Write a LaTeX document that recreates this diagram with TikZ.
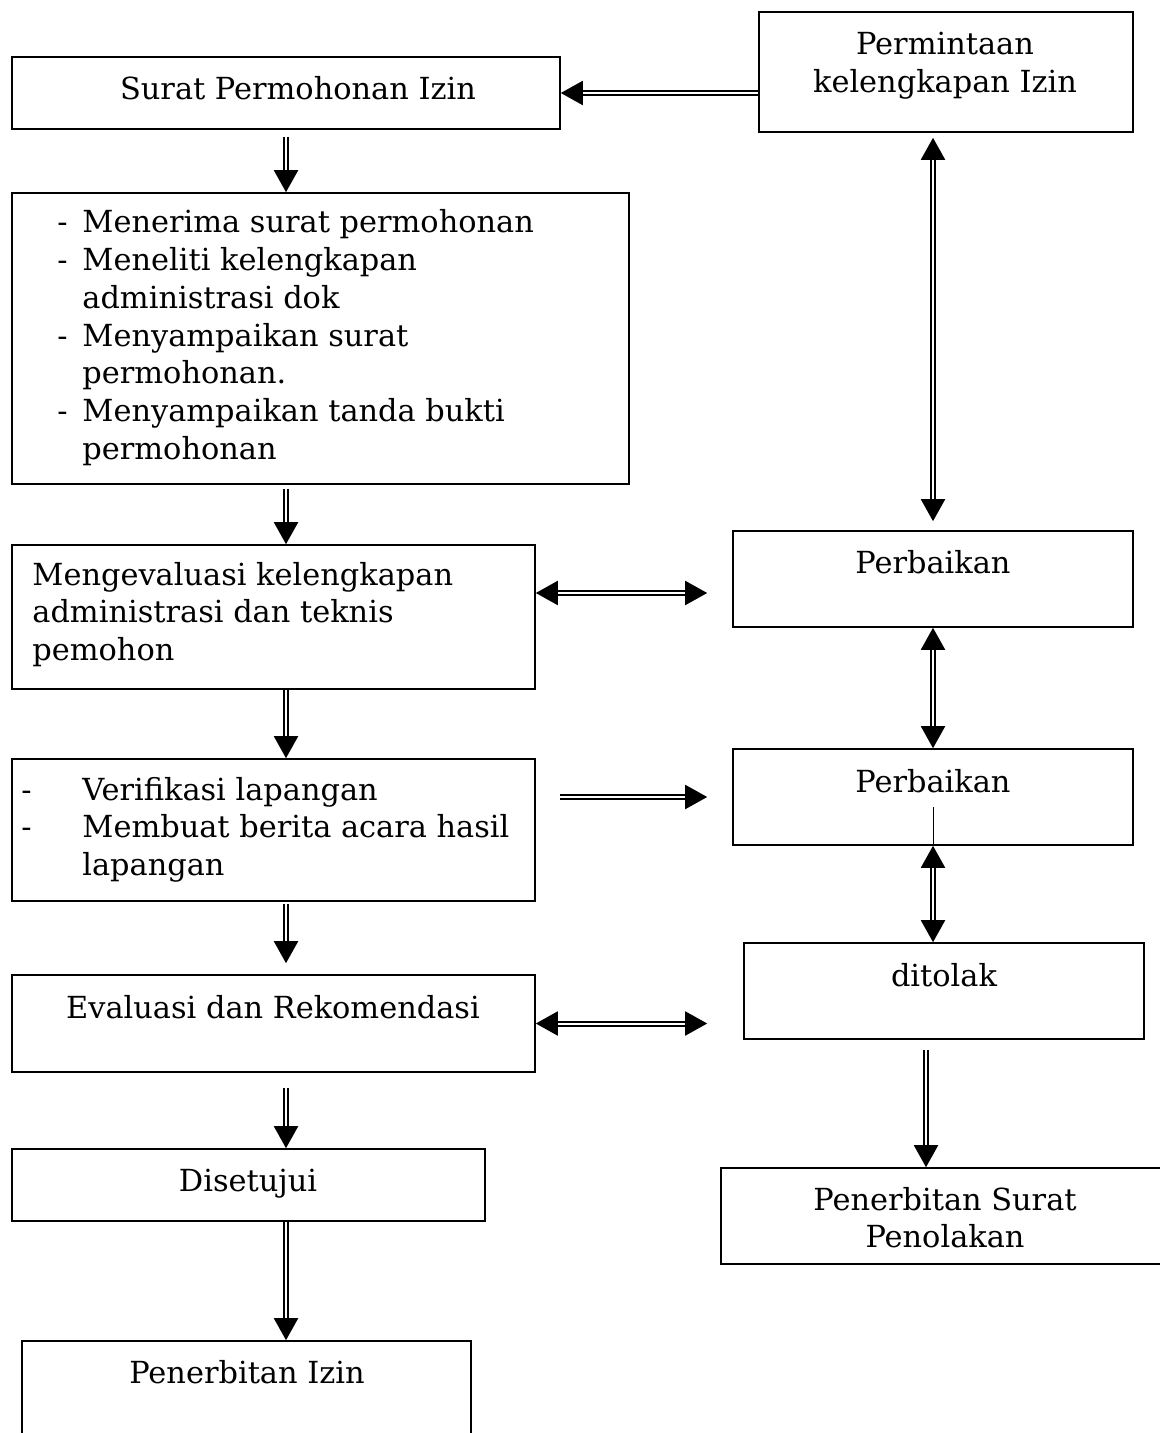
\documentclass[tikz,border=0pt]{standalone}
\usepackage{fontspec}
\setmainfont{DejaVu Serif}
\usetikzlibrary{arrows.meta}

\tikzstyle{kotak}= [rectangle,draw,black,line width=0.8pt,inner sep=0pt]
\tikzstyle{teks}= [inner sep=0pt,font=\fontsize{15.2}{18.85}\selectfont]
\tikzstyle{panah}= [draw,black,line width=1pt,double=white,double distance=1pt,-{Triangle[length=11pt,width=12pt]}]
\tikzstyle{panahdua}= [panah,{Triangle[length=11pt,width=12pt]}-{Triangle[length=11pt,width=12pt]}]

\begin{document}
\begin{tikzpicture}[x=0.5pt,y=-0.5pt]
		\useasboundingbox (0,0) rectangle (1160,1433);
		\clip (0,0) rectangle (1160,1433);

		\node (a) at (286,93) [kotak,minimum width=274pt,minimum height=36pt] {};
		\node (ta) at (298,100) [teks,anchor=base] {Surat Permohonan Izin};

		\node (b) at (946,72) [kotak,minimum width=187pt,minimum height=60pt] {};
		\node (tb) at (945,55) [teks,anchor=base] {\begin{tabular}[t]{@{}c@{}}Permintaan\\kelengkapan Izin\end{tabular}};

		\node (c) at (320.5,338.5) [kotak,minimum width=308.5pt,minimum height=145.5pt] {};
		\node (tc) at (57,233) [teks,anchor=base west] {\begin{tabular}[t]{@{}p{12.5pt}@{}l@{}}
			-&Menerima surat permohonan\\
			-&Meneliti kelengkapan\\
			&administrasi dok\\
			-&Menyampaikan surat\\
			&permohonan.\\
			-&Menyampaikan tanda bukti\\
			&permohonan\end{tabular}};

		\node (d) at (273.5,617) [kotak,minimum width=261.5pt,minimum height=72pt] {};
		\node (td) at (32,585) [teks,anchor=base west] {\begin{tabular}[t]{@{}l@{}}Mengevaluasi kelengkapan\\administrasi dan teknis\\pemohon\end{tabular}};

		\node (e) at (273.5,830) [kotak,minimum width=261.5pt,minimum height=71pt] {};
		\node (te) at (21,800) [teks,anchor=base west] {\begin{tabular}[t]{@{}p{30.5pt}@{}l@{}}
			-&Verifikasi lapangan\\
			-&Membuat berita acara hasil\\
			&lapangan\end{tabular}};

		\node (f) at (273.5,1023.5) [kotak,minimum width=261.5pt,minimum height=48.5pt] {};
		\node (tf) at (273,1018) [teks,anchor=base] {Evaluasi dan Rekomendasi};

		\node (g) at (248.5,1185) [kotak,minimum width=236.5pt,minimum height=36pt] {};
		\node (tg) at (248,1191) [teks,anchor=base] {Disetujui};

		\node (h) at (246.5,1400.5) [kotak,minimum width=224.5pt,minimum height=59.5pt] {};
		\node (th) at (247,1383) [teks,anchor=base] {Penerbitan Izin};

		\node (i) at (933,579) [kotak,minimum width=200pt,minimum height=48pt] {};
		\node (ti) at (933,573) [teks,anchor=base] {Perbaikan};

		\node (j) at (933,797) [kotak,minimum width=200pt,minimum height=48pt] {};
		\node (tj) at (933,792) [teks,anchor=base] {Perbaikan};

		\node (k) at (944,991) [kotak,minimum width=200pt,minimum height=48pt] {};
		\node (tk) at (944,986) [teks,anchor=base] {ditolak};

		\node (l) at (950.5,1216) [kotak,minimum width=229.5pt,minimum height=48pt] {};
		\node (tl) at (945,1210) [teks,anchor=base] {\begin{tabular}[t]{@{}c@{}}Penerbitan Surat\\Penolakan\end{tabular}};

		\coordinate (d1) at ([yshift=12pt]d.east);
		\coordinate (k1) at ([xshift=-9pt]k.south);
		\coordinate (garis) at (933,807);

		\path (b.west |- a.east) edge[panah] (a.east);
		\path (a.south) edge[panah,shorten <=3.5pt] (c.north -| a.south);
		\path (c.south -| a.south) edge[panah,shorten <=2pt] (d.north -| a.south);
		\path (d.south -| a.south) edge[panah] (e.north -| a.south);
		\path (e.south -| a.south) edge[panah,shorten <=1pt,shorten >=5.5pt] (f.north -| a.south);
		\path (f.south -| a.south) edge[panah,shorten <=7.5pt] (g.north -| a.south);
		\path (g.south -| a.south) edge[panah] (h.north -| a.south);

		\path (d1) edge[panahdua,shorten >=12.5pt] (d1 -| i.west);
		\path (j.west -| e.east) edge[panah,shorten <=12pt,shorten >=12.5pt] (j.west);
		\path (f.east) edge[panahdua,shorten >=18pt] (f.east -| k.west);

		\path (b.south -| i.north) edge[panahdua,shorten <=2.5pt,shorten >=4.5pt] (i.north);
		\path (i.south) edge[panahdua] (j.north);
		\path (j.south) edge[panahdua] (k.north -| j.south);
		\path (k1) edge[panah,shorten <=5pt] (k1 |- l.north);

		\draw[black,line width=0.5pt] (garis) -- (j.south);

	\end{tikzpicture}
\end{document}
